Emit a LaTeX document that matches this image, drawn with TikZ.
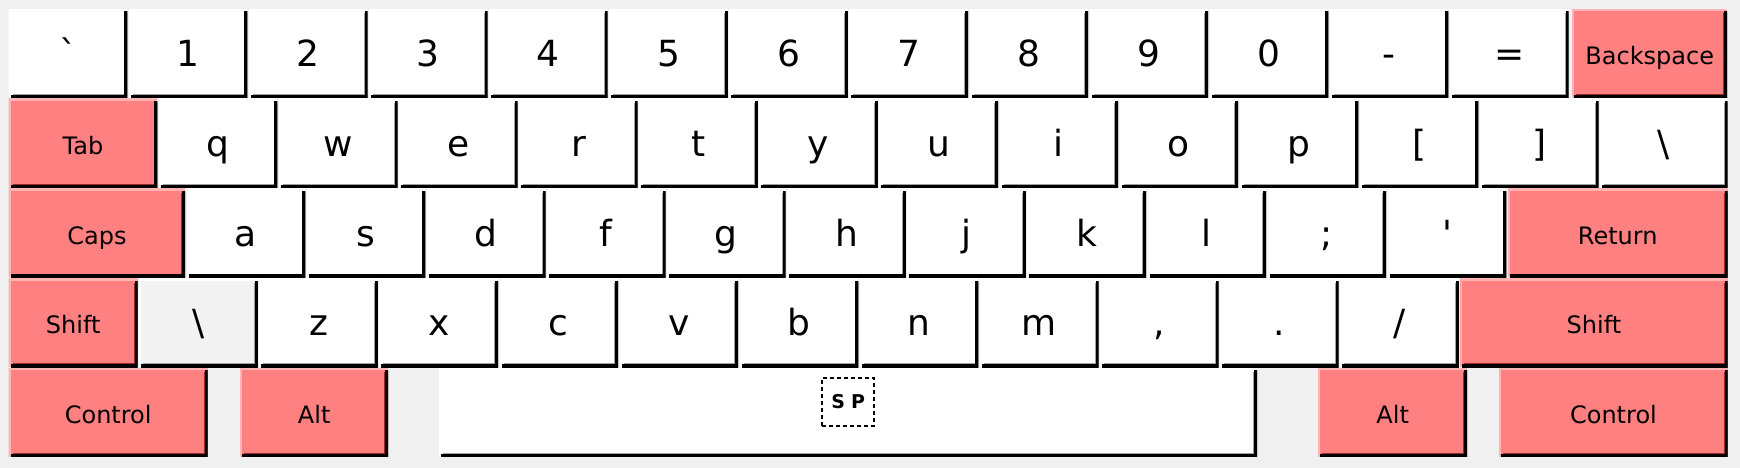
\documentclass[tikz,border=0pt]{standalone}
\usepackage{fontspec}
\newfontfamily\keyfont{DejaVu Sans}
\usetikzlibrary{positioning}

\definecolor{panelgray}{HTML}{F0F0F0}
\definecolor{keyred}{HTML}{FF8080}
\definecolor{keypink}{HTML}{FFB4B4}
\definecolor{keymaroon}{HTML}{9A2A2A}
\definecolor{keygray}{HTML}{F2F2F2}
\definecolor{keyshade}{HTML}{A0A0A0}

\tikzset{
  keylight/.store in=\keylight,
  keydark/.store in=\keydark,
  key/.style={rectangle, anchor=north west, inner sep=0pt, fill=white,
    minimum width=118.6pt, minimum height=88.5pt,
    keylight=white, keydark=keyshade,
    font=\keyfont\fontsize{36}{36}\selectfont, text height=26pt, text depth=0pt,
    path picture={
      \draw[\keylight, line width=4pt] (path picture bounding box.south west) -- (path picture bounding box.north west) -- (path picture bounding box.north east);
      \draw[\keydark, line width=7.5pt] ([yshift=-4pt]path picture bounding box.north east) -- (path picture bounding box.south east) -- ([xshift=4pt]path picture bounding box.south west);
      \draw[black, line width=6pt] ([yshift=-2pt]path picture bounding box.north east) -- (path picture bounding box.south east) -- ([xshift=2pt]path picture bounding box.south west);
    }},
  modkey/.style={key, fill=keyred, keylight=keypink, keydark=keymaroon,
    font=\keyfont\fontsize{24}{24}\selectfont, text height=22pt},
  graykey/.style={key, fill=keygray, keylight=white},
  spmark/.style={draw=black, line width=1.7pt, dash pattern=on 4pt off 3pt,
    minimum width=52pt, minimum height=48pt, inner sep=0pt,
    font=\keyfont\bfseries\fontsize{19}{19}\selectfont}
}

\begin{document}
\begin{tikzpicture}[x=1pt, y=-1pt]
  \fill[panelgray] (0,0) rectangle (1740,468);

  % row 1
  \foreach \lab [count=\i from 0] in {`,1,2,3,4,5,6,7,8,9,0,-,=}
    \node[key] (r1k\i) at ({8.5+\i*120.1}, 9) {\lab};
  \node[modkey, minimum width=155pt] (bksp) at (1572, 9) {Backspace};

  % row 2
  \node[modkey, minimum width=148.6pt] (tab) at (8.5, 98.8) {Tab};
  \foreach \lab [count=\i from 0] in {q,w,e,r,t,y,u,i,o,p,{[},{]}}
    \node[key] (r2k\i) at ({158.6+\i*120.1}, 98.8) {\lab};
  \node[key, minimum width=127.7pt] (bslash) at (1599.8, 98.8) {\textbackslash};

  % row 3
  \node[modkey, minimum width=176.5pt] (caps) at (8.5, 188.6) {Caps};
  \foreach \lab [count=\i from 0] in {a,s,d,f,g,h,j,k,l,;,'}
    \node[key] (r3k\i) at ({186.5+\i*120.1}, 188.6) {\lab};
  \node[modkey, minimum width=219.9pt] (return) at (1507.6, 188.6) {Return};

  % row 4
  \node[modkey, minimum width=129pt] (lshift) at (8.5, 278.4) {Shift};
  \node[graykey] (extra) at (139, 278.4) {\textbackslash};
  \foreach \lab [count=\i from 1] in {z,x,c,v,b,n,m,{,},.,/}
    \node[key] (r4k\i) at ({139+\i*120.1}, 278.4) {\lab};
  \node[modkey, minimum width=267.4pt] (rshift) at (1460.1, 278.4) {Shift};

  % row 5
  \node[modkey, minimum width=199pt] (lctrl) at (8.5, 368.2) {Control};
  \node[modkey, minimum width=148pt] (lalt) at (240, 368.2) {Alt};
  \node[key, minimum width=818pt] (space) at (439, 368.2) {};
  \node[modkey, minimum width=149pt] (ralt) at (1318, 368.2) {Alt};
  \node[modkey, minimum width=228.5pt] (rctrl) at (1499, 368.2) {Control};

  \node[spmark, below=8.8pt of space.north] (sp) {S\hspace{6pt}P};
\end{tikzpicture}
\end{document}
